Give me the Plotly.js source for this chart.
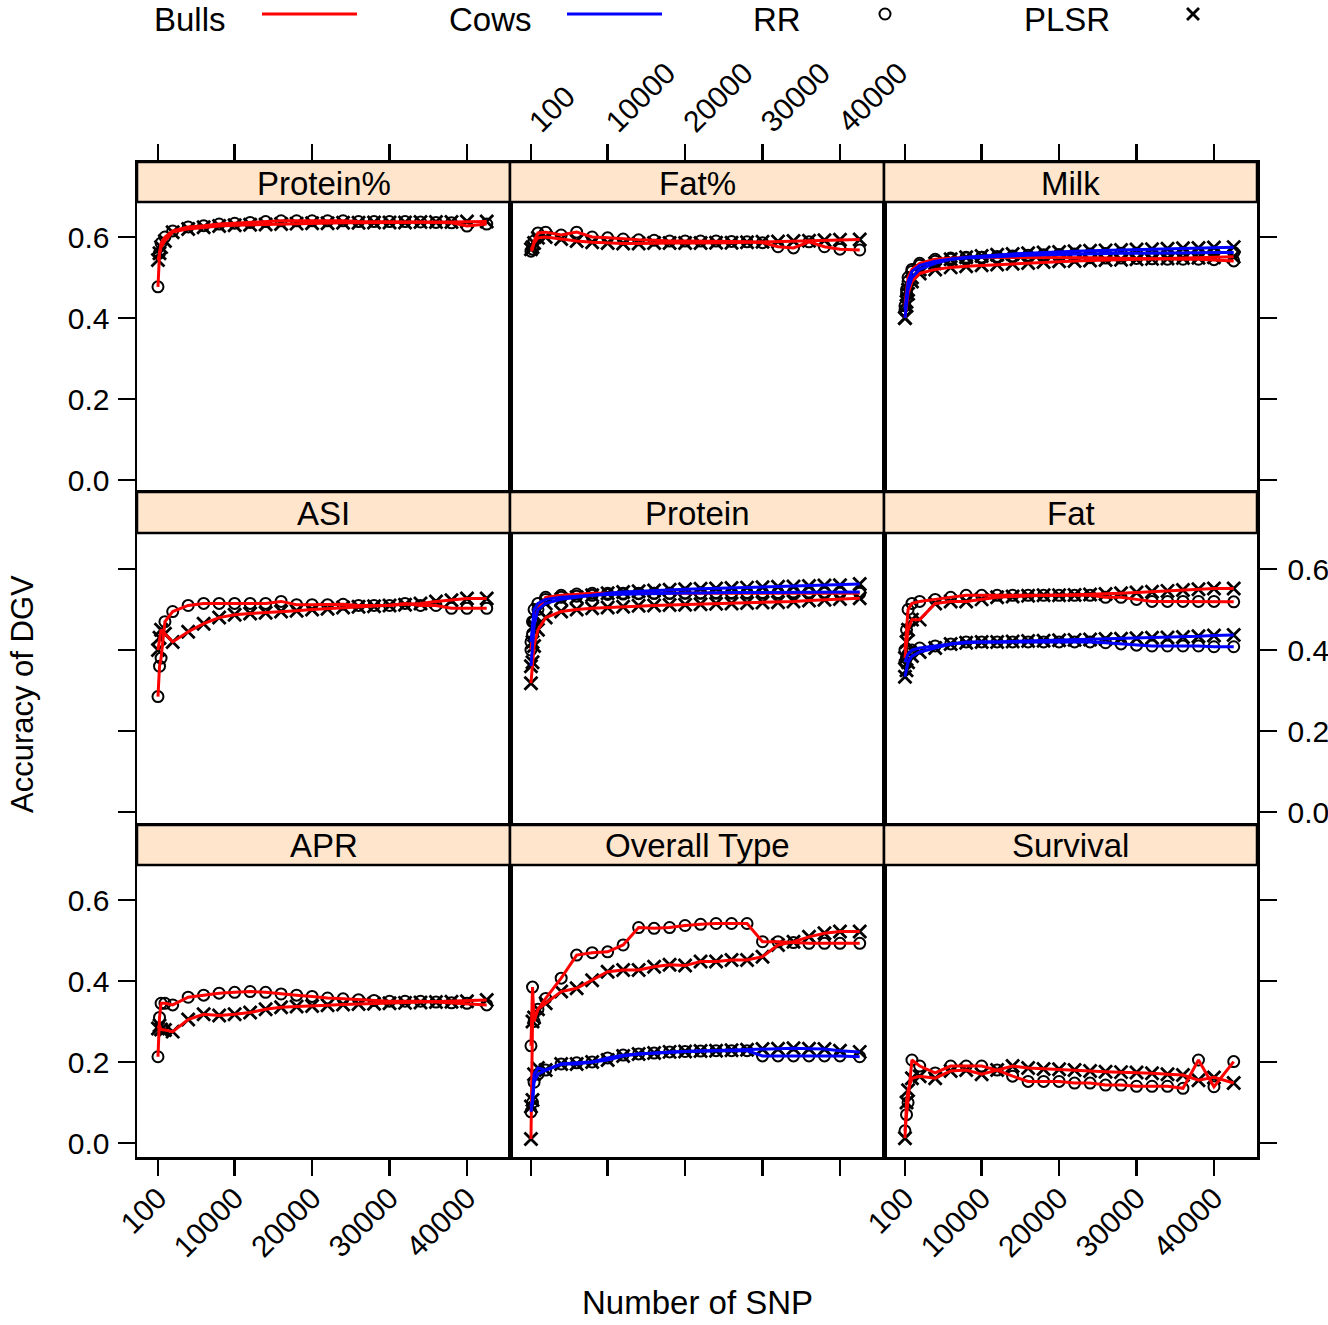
<!DOCTYPE html>
<html><head><meta charset="utf-8">
<script src="https://cdn.plot.ly/plotly-3.0.1.min.js"></script>
<style>html,body{margin:0;padding:0;background:#fff}#chart{width:1328px;height:1325px}</style>
</head><body><div id="chart"></div>
<script>
// ---------------- data ----------------
const snp = [100, 300, 500, 1000, 2000, 4000, 6000, 8000, 10000, 12000, 14000, 16000, 18000, 20000, 22000, 24000, 26000, 28000, 30000, 32000, 34000, 36000, 38000, 40000, 42552];
const traitNames = ["Protein%", "Fat%", "Milk", "ASI", "Protein", "Fat", "APR", "Overall Type", "Survival"];
const xTickVals = [100, 10000, 20000, 30000, 40000];
const xTickText = ["100", "10000", "20000", "30000", "40000"];
const yTickVals = [0, 0.2, 0.4, 0.6];
const yTickText = ["0.0", "0.2", "0.4", "0.6"];
const legendLabels = ["Bulls", "Cows", "RR", "PLSR"];
const xTitle = "Number of SNP";
const yTitle = "Accuracy of DGV";

const protPctBullsRR   = [0.477, 0.56, 0.585, 0.60, 0.615, 0.625, 0.628, 0.632, 0.634, 0.636, 0.638, 0.640, 0.640, 0.640, 0.640, 0.640, 0.638, 0.638, 0.638, 0.638, 0.637, 0.636, 0.635, 0.627, 0.632];
const protPctBullsPLSR = [0.543, 0.56, 0.575, 0.59, 0.612, 0.62, 0.624, 0.627, 0.629, 0.630, 0.631, 0.632, 0.633, 0.634, 0.634, 0.635, 0.635, 0.636, 0.636, 0.636, 0.637, 0.637, 0.637, 0.638, 0.638];

const fatPctBullsRR    = [0.565, 0.57, 0.59, 0.61, 0.612, 0.605, 0.612, 0.600, 0.598, 0.595, 0.593, 0.592, 0.590, 0.590, 0.590, 0.590, 0.589, 0.588, 0.586, 0.576, 0.573, 0.588, 0.576, 0.570, 0.568];
const fatPctBullsPLSR  = [0.570, 0.575, 0.585, 0.598, 0.600, 0.595, 0.590, 0.587, 0.585, 0.584, 0.584, 0.585, 0.585, 0.585, 0.585, 0.586, 0.586, 0.587, 0.588, 0.589, 0.590, 0.591, 0.592, 0.593, 0.594];

const milkBullsRR      = [0.43, 0.47, 0.50, 0.52, 0.535, 0.545, 0.548, 0.550, 0.550, 0.550, 0.550, 0.550, 0.550, 0.550, 0.550, 0.549, 0.548, 0.548, 0.547, 0.546, 0.545, 0.545, 0.545, 0.544, 0.541];
const milkBullsPLSR    = [0.40, 0.43, 0.46, 0.49, 0.51, 0.52, 0.525, 0.528, 0.530, 0.532, 0.534, 0.536, 0.538, 0.540, 0.541, 0.542, 0.543, 0.544, 0.545, 0.546, 0.547, 0.548, 0.549, 0.550, 0.551];
const milkCowsRR       = [0.42, 0.46, 0.49, 0.515, 0.53, 0.54, 0.545, 0.548, 0.550, 0.552, 0.553, 0.555, 0.556, 0.557, 0.558, 0.558, 0.559, 0.560, 0.560, 0.560, 0.560, 0.561, 0.561, 0.562, 0.562];
const milkCowsPLSR     = [0.40, 0.44, 0.47, 0.50, 0.52, 0.535, 0.545, 0.550, 0.553, 0.556, 0.558, 0.560, 0.562, 0.563, 0.565, 0.566, 0.567, 0.568, 0.569, 0.570, 0.571, 0.572, 0.573, 0.574, 0.575];

const asiBullsRR       = [0.285, 0.36, 0.38, 0.47, 0.495, 0.51, 0.515, 0.515, 0.515, 0.515, 0.515, 0.52, 0.512, 0.512, 0.512, 0.513, 0.51, 0.51, 0.51, 0.515, 0.51, 0.51, 0.503, 0.503, 0.503];
const asiBullsPLSR     = [0.40, 0.43, 0.45, 0.44, 0.42, 0.445, 0.465, 0.48, 0.487, 0.49, 0.492, 0.495, 0.497, 0.50, 0.502, 0.505, 0.507, 0.508, 0.51, 0.512, 0.515, 0.52, 0.523, 0.527, 0.527];

const protBullsRR      = [0.40, 0.44, 0.47, 0.50, 0.53, 0.535, 0.538, 0.54, 0.54, 0.54, 0.54, 0.54, 0.54, 0.54, 0.54, 0.54, 0.54, 0.54, 0.54, 0.54, 0.54, 0.54, 0.54, 0.54, 0.54];
const protBullsPLSR    = [0.318, 0.37, 0.41, 0.45, 0.48, 0.495, 0.50, 0.503, 0.505, 0.507, 0.509, 0.51, 0.511, 0.512, 0.513, 0.514, 0.515, 0.516, 0.517, 0.518, 0.52, 0.522, 0.524, 0.526, 0.528];
const protCowsRR       = [0.42, 0.47, 0.50, 0.515, 0.525, 0.53, 0.533, 0.535, 0.537, 0.538, 0.539, 0.54, 0.54, 0.541, 0.541, 0.542, 0.542, 0.542, 0.542, 0.542, 0.543, 0.543, 0.543, 0.543, 0.543];
const protCowsPLSR     = [0.36, 0.42, 0.46, 0.50, 0.515, 0.525, 0.53, 0.535, 0.54, 0.543, 0.545, 0.547, 0.549, 0.55, 0.551, 0.552, 0.553, 0.554, 0.555, 0.556, 0.557, 0.558, 0.559, 0.56, 0.563];

const fatBullsRR       = [0.40, 0.45, 0.50, 0.515, 0.52, 0.525, 0.53, 0.535, 0.535, 0.535, 0.535, 0.535, 0.535, 0.535, 0.535, 0.535, 0.53, 0.53, 0.525, 0.52, 0.52, 0.52, 0.52, 0.52, 0.519];
const fatBullsPLSR     = [0.38, 0.42, 0.45, 0.475, 0.475, 0.515, 0.52, 0.52, 0.525, 0.53, 0.532, 0.534, 0.535, 0.535, 0.536, 0.537, 0.538, 0.54, 0.542, 0.544, 0.546, 0.548, 0.55, 0.552, 0.552];
const fatCowsRR        = [0.37, 0.38, 0.39, 0.40, 0.405, 0.41, 0.415, 0.42, 0.42, 0.42, 0.42, 0.42, 0.42, 0.42, 0.42, 0.42, 0.418, 0.415, 0.412, 0.41, 0.41, 0.41, 0.41, 0.408, 0.408];
const fatCowsPLSR      = [0.334, 0.35, 0.37, 0.385, 0.395, 0.405, 0.415, 0.418, 0.42, 0.42, 0.421, 0.422, 0.423, 0.424, 0.425, 0.426, 0.427, 0.428, 0.429, 0.43, 0.431, 0.432, 0.434, 0.436, 0.437];

const aprBullsRR       = [0.213, 0.31, 0.345, 0.345, 0.341, 0.36, 0.365, 0.37, 0.372, 0.374, 0.372, 0.368, 0.365, 0.362, 0.358, 0.356, 0.354, 0.352, 0.35, 0.35, 0.35, 0.348, 0.346, 0.345, 0.341];
const aprBullsPLSR     = [0.283, 0.29, 0.28, 0.279, 0.275, 0.305, 0.318, 0.315, 0.318, 0.322, 0.33, 0.335, 0.337, 0.338, 0.34, 0.342, 0.343, 0.344, 0.345, 0.346, 0.347, 0.348, 0.349, 0.35, 0.353];

const otBullsRR        = [0.24, 0.385, 0.30, 0.33, 0.357, 0.407, 0.464, 0.47, 0.472, 0.489, 0.532, 0.53, 0.532, 0.537, 0.54, 0.542, 0.542, 0.542, 0.497, 0.497, 0.495, 0.493, 0.493, 0.493, 0.493];
const otBullsPLSR      = [0.01, 0.30, 0.31, 0.33, 0.345, 0.374, 0.382, 0.402, 0.423, 0.427, 0.427, 0.435, 0.44, 0.438, 0.448, 0.448, 0.452, 0.452, 0.46, 0.489, 0.497, 0.509, 0.518, 0.522, 0.522];
const otCowsRR         = [0.077, 0.10, 0.15, 0.17, 0.18, 0.195, 0.198, 0.20, 0.21, 0.217, 0.22, 0.222, 0.225, 0.226, 0.227, 0.228, 0.228, 0.228, 0.215, 0.215, 0.215, 0.215, 0.215, 0.215, 0.213];
const otCowsPLSR       = [0.09, 0.106, 0.17, 0.185, 0.18, 0.195, 0.195, 0.20, 0.205, 0.215, 0.22, 0.222, 0.225, 0.226, 0.227, 0.228, 0.229, 0.23, 0.232, 0.233, 0.234, 0.233, 0.232, 0.228, 0.225];

const survBullsRR      = [0.03, 0.07, 0.10, 0.205, 0.19, 0.173, 0.19, 0.19, 0.19, 0.18, 0.165, 0.152, 0.152, 0.152, 0.148, 0.148, 0.143, 0.143, 0.14, 0.14, 0.14, 0.135, 0.205, 0.139, 0.201];
const survBullsPLSR    = [0.012, 0.10, 0.13, 0.16, 0.165, 0.16, 0.178, 0.18, 0.17, 0.18, 0.19, 0.185, 0.183, 0.182, 0.18, 0.178, 0.176, 0.175, 0.174, 0.172, 0.17, 0.168, 0.155, 0.162, 0.148];

// series per panel (same order as traitNames)
const panelSeries = [
  {bullsRR: protPctBullsRR, bullsPLSR: protPctBullsPLSR},
  {bullsRR: fatPctBullsRR, bullsPLSR: fatPctBullsPLSR},
  {bullsRR: milkBullsRR, bullsPLSR: milkBullsPLSR, cowsRR: milkCowsRR, cowsPLSR: milkCowsPLSR},
  {bullsRR: asiBullsRR, bullsPLSR: asiBullsPLSR},
  {bullsRR: protBullsRR, bullsPLSR: protBullsPLSR, cowsRR: protCowsRR, cowsPLSR: protCowsPLSR},
  {bullsRR: fatBullsRR, bullsPLSR: fatBullsPLSR, cowsRR: fatCowsRR, cowsPLSR: fatCowsPLSR},
  {bullsRR: aprBullsRR, bullsPLSR: aprBullsPLSR},
  {bullsRR: otBullsRR, bullsPLSR: otBullsPLSR, cowsRR: otCowsRR, cowsPLSR: otCowsPLSR},
  {bullsRR: survBullsRR, bullsPLSR: survBullsPLSR}
];

// ---------------- layout geometry ----------------
const W = 1328, H = 1325;
const FONT = "Liberation Sans, Arial, Helvetica, sans-serif";
const RED = "#FF0000", BLUE = "#0000FF", STRIP = "#FFE5CC";
const colEdges = [[137, 510], [510, 884], [884, 1257]];
const rowEdges = [[162, 492], [492, 825], [825, 1157]];   // strip top -> panel bottom
const stripBottom = [202, 533, 865];
const zeroY = [480, 812, 1143];
const yPx = 405;             // px per unit accuracy
const xPx = 0.007744;        // px per SNP
const zeroXOff = 20.2;       // px from column left edge to SNP=0
const LW = 2.5;
const TICKFS = 30, TEXTFS = 33;

const px2x = p => p / W;
const px2y = p => 1 - p / H;

const data = [];
const layout = {
  width: W, height: H, autosize: false,
  margin: {l: 0, r: 0, t: 0, b: 0, pad: 0},
  paper_bgcolor: "#fff", plot_bgcolor: "#fff",
  showlegend: false,
  font: {family: FONT, color: "#000", size: 26},
  shapes: [], annotations: []
};

for (let i = 0; i < 9; i++) {
  const r = Math.floor(i / 3), c = i % 3;
  const n = i + 1;
  const xa = "xaxis" + (n === 1 ? "" : n), ya = "yaxis" + (n === 1 ? "" : n);
  const xr = "x" + (n === 1 ? "" : n), yr = "y" + (n === 1 ? "" : n);
  const [c0, c1] = colEdges[c];
  const [r0, r1] = rowEdges[r];
  const zx = c0 + zeroXOff;
  layout[xa] = {
    domain: [px2x(c0), px2x(c1)],
    range: [(c0 - zx) / xPx, (c1 - zx) / xPx],
    anchor: yr,
    side: r === 0 ? "top" : "bottom",
    showline: true, linecolor: "#000", linewidth: LW, mirror: true,
    showgrid: false, zeroline: false,
    tickmode: "array", tickvals: xTickVals, ticktext: xTickText,
    ticks: r === 1 ? "" : "outside", ticklen: 16, tickwidth: LW, tickcolor: "#000",
    ticklabelstandoff: -7,
    showticklabels: (r === 0 && c === 1) || (r === 2 && c !== 1),
    tickangle: -45,
    tickfont: {family: FONT, size: TICKFS, color: "#000"},
    fixedrange: true
  };
  layout[ya] = {
    domain: [px2y(r1), px2y(r0)],
    range: [(zeroY[r] - r1) / yPx, (zeroY[r] - r0) / yPx],
    anchor: xr,
    side: c === 2 ? "right" : "left",
    showline: true, linecolor: "#000", linewidth: LW, mirror: true,
    showgrid: false, zeroline: false,
    tickmode: "array", tickvals: yTickVals, ticktext: yTickText,
    ticks: c === 1 ? "" : "outside", ticklen: 17, tickwidth: LW, tickcolor: "#000",
    ticklabelstandoff: c === 2 ? 5 : 2,
    showticklabels: (c === 0 && r !== 1) || (c === 2 && r === 1),
    tickfont: {family: FONT, size: TICKFS, color: "#000"},
    fixedrange: true
  };
  // strip
  layout.shapes.push({
    type: "rect", xref: "paper", yref: "paper", layer: "above",
    x0: px2x(c0), x1: px2x(c1), y0: px2y(stripBottom[r]), y1: px2y(r0),
    fillcolor: STRIP, line: {color: "#000", width: LW}
  });
  layout.annotations.push({
    xref: "paper", yref: "paper", x: px2x((c0 + c1) / 2), y: px2y((r0 + stripBottom[r]) / 2 + 1),
    text: traitNames[i], showarrow: false, xanchor: "center", yanchor: "middle",
    font: {family: FONT, size: TEXTFS, color: "#000"}
  });

  const s = panelSeries[i];
  const markerSets = [
    [s.bullsRR, "circle-open"], [s.bullsPLSR, "x-thin-open"],
    [s.cowsRR, "circle-open"], [s.cowsPLSR, "x-thin-open"]
  ];
  markerSets.forEach(([vals, sym]) => {
    if (!vals) return;
    data.push({
      type: "scatter", mode: "markers", x: snp, y: vals, xaxis: xr, yaxis: yr,
      marker: {symbol: sym, size: sym === "circle-open" ? 11 : 13, color: "#000",
               line: {color: "#000", width: sym === "circle-open" ? 2 : 2.8}},
      hoverinfo: "skip"
    });
  });
  const lineSets = [
    [s.bullsRR, RED], [s.bullsPLSR, RED], [s.cowsRR, BLUE], [s.cowsPLSR, BLUE]
  ];
  lineSets.forEach(([vals, col]) => {
    if (!vals) return;
    data.push({
      type: "scatter", mode: "lines", x: snp, y: vals, xaxis: xr, yaxis: yr,
      line: {color: col, width: 3}, hoverinfo: "skip"
    });
  });
}

// axis titles
layout.annotations.push({
  xref: "paper", yref: "paper", x: px2x(697), y: px2y(1302), text: xTitle,
  showarrow: false, xanchor: "center", yanchor: "middle", font: {family: FONT, size: TEXTFS, color: "#000"}
});
layout.annotations.push({
  xref: "paper", yref: "paper", x: px2x(22), y: px2y(694), text: yTitle, textangle: -90,
  showarrow: false, xanchor: "center", yanchor: "middle", font: {family: FONT, size: 31, color: "#000"}
});

// legend (key) drawn at the top
const keyTextX = [190, 490, 777, 1067];
keyTextX.forEach((x, k) => {
  layout.annotations.push({
    xref: "paper", yref: "paper", x: px2x(x), y: 1, text: legendLabels[k],
    showarrow: false, xanchor: "center", yanchor: "top", borderpad: 0,
    font: {family: FONT, size: TEXTFS, color: "#000"}
  });
});
layout.shapes.push({type: "line", xref: "paper", yref: "paper", x0: px2x(262), x1: px2x(357), y0: px2y(14), y1: px2y(14), line: {color: RED, width: 3}});
layout.shapes.push({type: "line", xref: "paper", yref: "paper", x0: px2x(567), x1: px2x(662), y0: px2y(14), y1: px2y(14), line: {color: BLUE, width: 3}});
layout.shapes.push({type: "circle", xref: "paper", yref: "paper", x0: px2x(879.5), x1: px2x(890.5), y0: px2y(19.5), y1: px2y(8.5), line: {color: "#000", width: 2}});
layout.shapes.push({type: "line", xref: "paper", yref: "paper", x0: px2x(1187), x1: px2x(1199), y0: px2y(8), y1: px2y(20), line: {color: "#000", width: 2.8}});
layout.shapes.push({type: "line", xref: "paper", yref: "paper", x0: px2x(1187), x1: px2x(1199), y0: px2y(20), y1: px2y(8), line: {color: "#000", width: 2.8}});

Plotly.newPlot("chart", data, layout, {displayModeBar: false, staticPlot: true});
</script>
</body></html>
